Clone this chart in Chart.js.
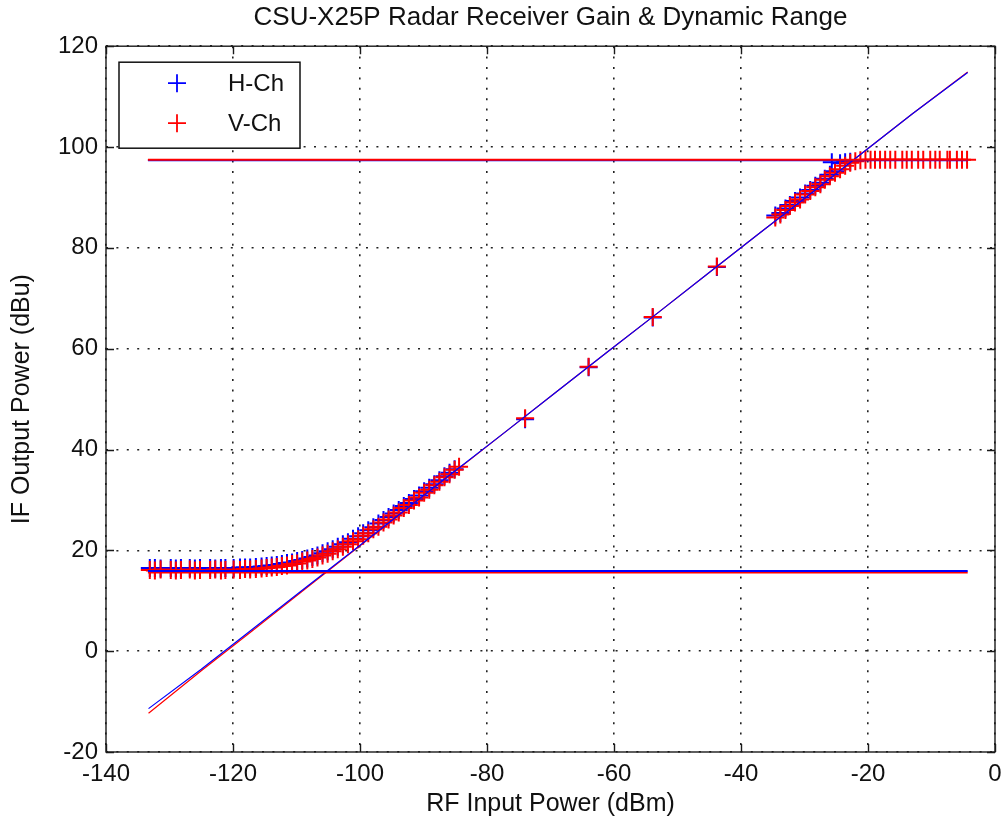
<!DOCTYPE html>
<html>
<head>
<meta charset="utf-8">
<script src="https://cdn.jsdelivr.net/npm/chart.js@4/dist/chart.umd.min.js"></script>
<style>
  html, body { margin: 0; padding: 0; background: #fff; }
  #wrap { width: 1007px; height: 828px; }
</style>
</head>
<body>
<div id="wrap"><canvas id="c" width="1007" height="828"></canvas></div>
<script>
// ---------------- DATA ----------------
const titleText = 'CSU-X25P Radar Receiver Gain & Dynamic Range';
const xTitle = 'RF Input Power (dBm)';
const yTitle = 'IF Output Power (dBu)';
const xTicks = [-140, -120, -100, -80, -60, -40, -20, 0];
const yTicks = [-20, 0, 20, 40, 60, 80, 100, 120];

// H-Ch measured points
const hX = [-133.1,-132.3,-131.4,-129.8,-129.0,-128.2,-126.8,-126.0,-125.2,-123.6,-122.8,-121.9,-121.2,-119.9,-118.9,-118.1,-117.3,-116.4,-115.5,-114.7,-113.9,-113.1,-112.3,
  -111.5,-110.7,-109.9,-109.1,-108.3,-107.5,-106.7,-105.9,-105.1,-104.3,-103.5,-102.7,-101.9,-101.1,-100.3,-99.5,-98.7,-97.9,-97.1,-96.3,-95.5,-94.7,-93.9,-93.1,-92.3,-91.5,-90.7,-89.9,-89.1,-88.3,-87.5,-86.7,-85.9,-85.1,
  -74.0,-64.0,-53.9,-43.8,
  -34.6,-33.8,-33.0,-32.3,-31.5,-30.7,-29.9,-29.1,-28.3,-27.5,-26.8,-26.0,-25.7,-25.2,-24.4,-23.6,-22.8];
const hY = [16.5,16.5,16.4,16.5,16.4,16.5,16.5,16.4,16.5,16.5,16.4,16.5,16.5,16.5,16.6,16.6,16.6,16.7,16.8,16.9,17.0,17.1,17.3,
  17.5,17.6,17.9,18.1,18.4,18.7,19.0,19.4,19.8,20.2,20.7,21.2,21.6,22.3,22.8,23.4,24.0,24.6,25.3,26.0,26.6,27.3,28.0,28.8,29.4,30.2,30.9,31.7,32.4,33.1,33.9,34.7,35.4,36.1,
  46.0,56.3,66.2,76.2,
  86.4,86.9,87.8,88.5,89.3,90.0,90.8,91.5,92.3,92.9,93.7,94.5,97.0,95.2,96.8,97.0,97.1];

// V-Ch measured points
const vX = [-133.1,-132.3,-131.4,-129.8,-129.0,-128.2,-126.8,-126.0,-125.2,-123.6,-122.8,-121.9,-121.2,-119.9,-118.9,-118.1,-117.3,-116.4,-115.5,-114.7,-113.9,-113.1,-112.3,
  -111.5,-110.7,-109.9,-109.1,-108.3,-107.5,-106.7,-105.9,-105.1,-104.3,-103.5,-102.7,-101.9,-101.1,-100.3,-99.5,-98.7,-97.9,-97.1,-96.3,-95.5,-94.7,-93.9,-93.1,-92.3,-91.5,-90.7,-89.9,-89.1,-88.3,-87.5,-86.7,-85.9,-85.1,-84.4,
  -74.0,-64.0,-53.9,-43.8,
  -34.6,-33.8,-33.0,-32.3,-31.5,-30.7,-29.9,-29.1,-28.3,-27.5,-26.8,-26.0,-25.2,-24.4,-23.6,-22.8,-22.0,-21.2,-20.4,-19.6,
  -18.9,-18.1,-17.3,-16.5,-15.7,-14.6,-13.9,-13.1,-12.1,-11.3,-10.2,-9.4,-8.7,-7.5,-7.1,-6.0,-5.2,-4.4];
const vY = [16.1,16.0,16.2,16.1,16.0,16.1,16.2,16.0,16.1,16.1,16.2,16.0,16.1,16.2,16.1,16.3,16.2,16.3,16.4,16.5,16.6,16.7,16.9,
  17.0,17.3,17.4,17.8,18.0,18.3,18.6,19.0,19.3,19.8,20.2,20.7,21.2,21.8,22.2,22.9,23.4,24.2,24.7,25.5,26.1,26.9,27.5,28.4,29.0,29.9,30.5,31.4,32.0,32.9,33.6,34.5,35.1,36.0,36.6,
  46.2,56.4,66.3,76.3,
  86.0,86.6,87.5,88.3,89.0,89.6,90.6,91.3,92.0,92.6,93.5,94.2,94.9,95.6,96.3,96.9,97.2,97.4,97.5,97.5,
  97.5,97.5,97.5,97.5,97.5,97.5,97.5,97.5,97.5,97.5,97.5,97.5,97.5,97.5,97.5,97.5,97.5,97.5];

// Linear gain fits
const fitX  = [-133.3,-125,-117,-109,-101,-93,-85,-77,-69,-61,-53,-45,-37,-29,-21,-13,-4.3];
const hFitY = [-11.4,-3.6,4.3,12.2,20.0,27.9,35.8,43.6,51.5,59.4,67.2,75.1,83.0,90.8,98.7,106.6,114.8];
const vFitY = [-12.3,-3.9,4.0,12.0,19.9,27.8,35.7,43.6,51.5,59.4,67.2,75.1,83.0,90.8,98.7,106.6,114.9];

// Noise floor and saturation levels
const lineX = [-133.4, -4.3];
const hFloor = [15.9, 15.9];
const vFloor = [15.6, 15.6];
const hSat = [97.4, 97.4];
const vSat = [97.5, 97.5];

// ---------------- BUILD ----------------
const BLUE = '#0000ff';
const RED = '#ff0000';
const FONT = "'Liberation Sans', Arial, sans-serif";
const pts = (xs, ys) => xs.map((x, i) => ({x: x, y: ys[i]}));

const markerDs = (label, xs, ys, color, order) => ({
  label, data: pts(xs, ys), showLine: false,
  pointStyle: 'cross', pointRadius: 9, pointHoverRadius: 9,
  pointBorderColor: color, pointBackgroundColor: color, pointBorderWidth: 2,
  borderColor: color, backgroundColor: color, order, isMarker: true
});
const lineDs = (label, xs, ys, color, width, order) => ({
  label, data: pts(xs, ys), showLine: true, pointRadius: 0, pointHoverRadius: 0,
  borderColor: color, backgroundColor: color, borderWidth: width, order, tension: 0
});

const datasets = [
  markerDs('H-Ch', hX, hY, BLUE, 6),
  markerDs('V-Ch', vX, vY, RED, 5),
  lineDs('V fit', fitX, vFitY, RED, 1.2, 4),
  lineDs('H fit', fitX, hFitY, BLUE, 1.2, 3),
  lineDs('V floor', lineX, vFloor, RED, 2, 2.5),
  lineDs('H floor', lineX, hFloor, BLUE, 2, 2),
  lineDs('H sat', lineX, hSat, BLUE, 2, 1),
  lineDs('V sat', lineX, vSat, RED, 2, 0)
];

const boxPlugin = {
  id: 'boxPlugin',
  afterDraw(chart) {
    const {ctx, chartArea: a, scales} = chart;
    ctx.save();
    ctx.strokeStyle = '#1a1a1a';
    ctx.lineWidth = 1.4;
    ctx.strokeRect(a.left, a.top, a.right - a.left, a.bottom - a.top);
    const tl = 8;
    ctx.beginPath();
    scales.x.ticks.forEach(t => {
      const px = Math.round(scales.x.getPixelForValue(t.value)) + 0.5;
      ctx.moveTo(px, a.bottom); ctx.lineTo(px, a.bottom - tl);
      ctx.moveTo(px, a.top); ctx.lineTo(px, a.top + tl);
    });
    scales.y.ticks.forEach(t => {
      const py = Math.round(scales.y.getPixelForValue(t.value)) + 0.5;
      ctx.moveTo(a.left, py); ctx.lineTo(a.left + tl, py);
      ctx.moveTo(a.right, py); ctx.lineTo(a.right - tl, py);
    });
    ctx.stroke();

    // legend box
    const lx = a.left + 13, ly = a.top + 16, lw = 181, lh = 86;
    ctx.fillStyle = '#fff';
    ctx.fillRect(lx, ly, lw, lh);
    ctx.strokeStyle = '#111';
    ctx.lineWidth = 1.5;
    ctx.strokeRect(lx, ly, lw, lh);
    const items = chart.data.datasets.filter(d => d.isMarker);
    items.forEach((d, i) => {
      const cy = ly + 21 + i * 40;
      const cx = lx + 58;
      ctx.strokeStyle = d.borderColor;
      ctx.lineWidth = 1.8;
      ctx.beginPath();
      ctx.moveTo(cx - 9, cy); ctx.lineTo(cx + 9, cy);
      ctx.moveTo(cx, cy - 9); ctx.lineTo(cx, cy + 9);
      ctx.stroke();
      ctx.fillStyle = '#111';
      ctx.font = '24px ' + FONT;
      ctx.textBaseline = 'middle';
      ctx.textAlign = 'left';
      ctx.fillText(d.label, lx + 109, cy + 1);
    });
    ctx.restore();
  }
};

const gridCommon = {
  color: '#222', lineWidth: 1.6, drawTicks: false
};

new Chart(document.getElementById('c'), {
  type: 'scatter',
  data: { datasets },
  options: {
    responsive: false,
    animation: false,
    devicePixelRatio: 1,
    layout: { padding: { left: 0, right: 12, top: 0, bottom: 0 } },
    plugins: {
      legend: { display: false },
      tooltip: { enabled: false },
      title: {
        display: true, text: titleText, color: '#111', fullSize: false,
        font: { family: FONT, size: 26, weight: 'normal', lineHeight: 1.2 },
        padding: { top: 2, bottom: 13 }
      }
    },
    scales: {
      x: {
        type: 'linear', min: -140, max: 0,
        afterBuildTicks: s => { s.ticks = xTicks.map(v => ({value: v})); },
        afterFit: s => { s.height = 76; s.paddingRight = 4; s.paddingLeft = 4; },
        ticks: { color: '#111', font: { family: FONT, size: 24 }, padding: 8, maxRotation: 0, autoSkip: false },
        grid: gridCommon,
        border: { display: false, dash: [2, 8.4] },
        title: { display: true, text: xTitle, color: '#111',
          font: { family: FONT, size: 25, lineHeight: 1.2 }, padding: { top: 0, bottom: 9 } }
      },
      y: {
        type: 'linear', min: -20, max: 120,
        afterBuildTicks: s => { s.ticks = yTicks.map(v => ({value: v})); },
        afterFit: s => { s.width = 106; },
        ticks: { color: '#111', font: { family: FONT, size: 24 }, padding: 8, autoSkip: false },
        grid: gridCommon,
        border: { display: false, dash: [2, 8.4] },
        title: { display: true, text: yTitle, color: '#111',
          font: { family: FONT, size: 25, lineHeight: 1.2 }, padding: { top: 7, bottom: 0 } }
      }
    }
  },
  plugins: [boxPlugin]
});
</script>
</body>
</html>
